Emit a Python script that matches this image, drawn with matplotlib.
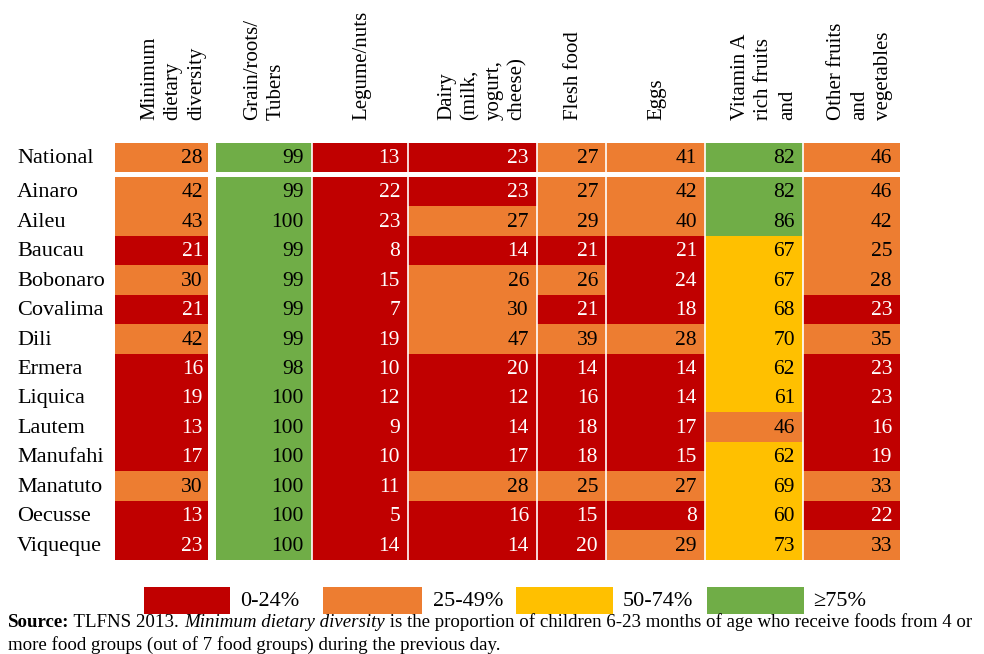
import matplotlib.pyplot as plt
from matplotlib.patches import Rectangle

plt.rcParams['font.family'] = ['Liberation Serif', 'DejaVu Serif']

headers = ['Minimum\ndietary\ndiversity', 'Grain/roots/\nTubers', 'Legume/nuts',
           'Dairy\n(milk,\nyogurt,\ncheese)', 'Flesh food', 'Eggs',
           'Vitamin A\nrich fruits\nand', 'Other fruits\nand\nvegetables']
regions = ['National', 'Ainaro', 'Aileu', 'Baucau', 'Bobonaro', 'Covalima', 'Dili',
           'Ermera', 'Liquica', 'Lautem', 'Manufahi', 'Manatuto', 'Oecusse', 'Viqueque']
min_div = [28, 42, 43, 21, 30, 21, 42, 16, 19, 13, 17, 30, 13, 23]
grain = [99, 99, 100, 99, 99, 99, 99, 98, 100, 100, 100, 100, 100, 100]
legume = [13, 22, 23, 8, 15, 7, 19, 10, 12, 9, 10, 11, 5, 14]
dairy = [23, 23, 27, 14, 26, 30, 47, 20, 12, 14, 17, 28, 16, 14]
flesh = [27, 27, 29, 21, 26, 21, 39, 14, 16, 18, 18, 25, 15, 20]
eggs = [41, 42, 40, 21, 24, 18, 28, 14, 14, 17, 15, 27, 8, 29]
vit_a = [82, 82, 86, 67, 67, 68, 70, 62, 61, 46, 62, 69, 60, 73]
other_fv = [46, 46, 42, 25, 28, 23, 35, 23, 23, 16, 19, 33, 22, 33]
columns = [min_div, grain, legume, dairy, flesh, eggs, vit_a, other_fv]

bins = ['0-24%', '25-49%', '50-74%', '≥75%']
bin_colors = ['#C00000', '#ED7D31', '#FFC000', '#70AD47']


def bin_of(v):
    if v < 25:
        return 0
    if v < 50:
        return 1
    if v < 75:
        return 2
    return 3


fig = plt.figure(figsize=(9.84, 6.54), dpi=100)
ax = fig.add_axes([0, 0, 1, 1])
ax.set_xlim(0, 984)
ax.set_ylim(654, 0)
ax.axis('off')

# layout (pixels)
col_left = [115, 216, 312, 408, 537, 606, 705, 803]
col_right = [208, 312, 408, 537, 606, 705, 803, 900]
head_x = [140, 243, 352, 437, 564, 647, 731, 827]
nat_top, nat_h = 143, 29
body_top, row_h = 177, 29.46

centers = [nat_top + nat_h / 2] + [body_top + row_h * (i + 0.5) for i in range(len(regions) - 1)]
heights = [nat_h] + [row_h + 0.4] * (len(regions) - 1)

for j, vals in enumerate(columns):
    cols = [bin_colors[bin_of(v)] for v in vals]
    ax.barh(centers, col_right[j] - col_left[j], left=col_left[j], height=heights,
            color=cols, linewidth=0)
    pad = 5 if j == 0 else 8
    for y, v in zip(centers, vals):
        ax.text(col_right[j] - pad, y + 1, str(v), ha='right', va='center', fontsize=15.5,
                color='white' if bin_of(v) == 0 else 'black')
    ax.text(head_x[j], 120, headers[j], rotation=90, ha='left', va='bottom',
            fontsize=15, linespacing=1.32)

ax.vlines(col_left[2:], nat_top, body_top + row_h * (len(regions) - 1),
          color='white', linewidth=1.2)

for y, name in zip(centers, regions):
    ax.text(17, y + 1, name, ha='left', va='center', fontsize=16)

# legend
leg_box = [(144, 230), (323, 422), (516, 613), (707, 804)]
leg_txt = [240, 433, 623, 813]
for (x0, x1), tx, lab, c in zip(leg_box, leg_txt, bins, bin_colors):
    ax.add_patch(Rectangle((x0, 587), x1 - x0, 27, color=c, lw=0))
    ax.text(tx, 602, lab, ha='left', va='center', fontsize=16)

# source note
fs = 13.6
t = ax.text(8, 631, 'Source:', fontsize=fs, fontweight='bold', va='bottom')
pieces = [(' TLFNS 2013. ', 'normal'), ('Minimum dietary diversity', 'italic'),
          (' is the proportion of children 6-23 months of age who receive foods from 4 or', 'normal')]
for s, st in pieces:
    t = ax.annotate(s, xy=(1, 0), xycoords=t, va='bottom', ha='left', fontsize=fs, style=st)
ax.text(8, 654, 'more food groups (out of 7 food groups) during the previous day.',
        fontsize=fs, va='bottom')

fig.savefig('out.png', dpi=100)
